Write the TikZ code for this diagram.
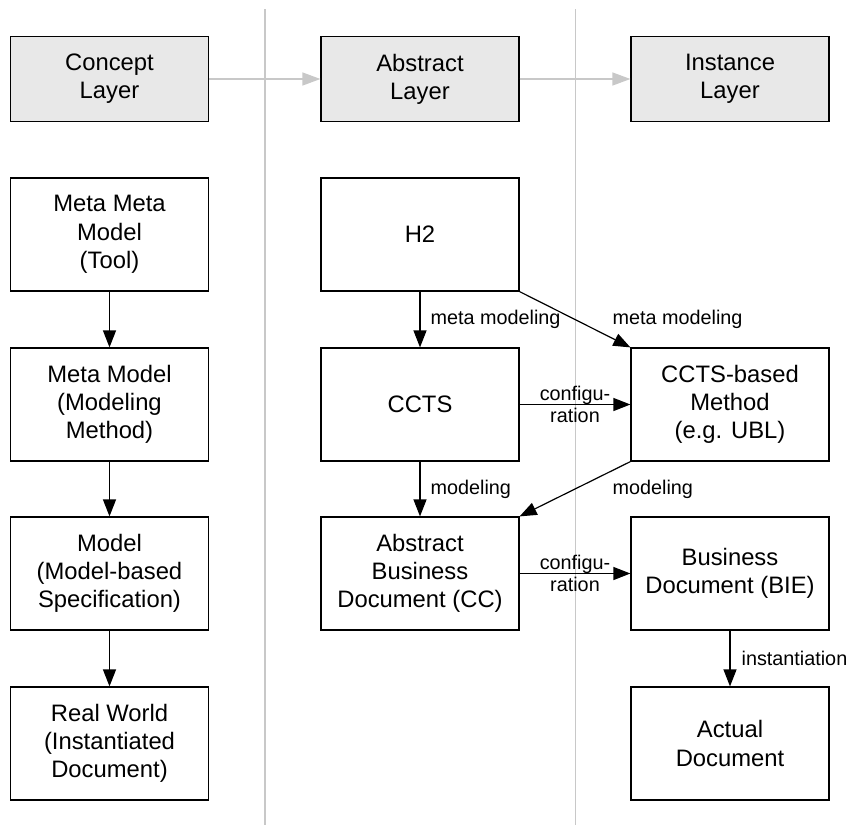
\documentclass[tikz,border=0pt]{standalone}
\usepackage{fontspec}
\setmainfont{Liberation Sans}
\usetikzlibrary{arrows.meta,calc}
\definecolor{layergray}{HTML}{E8E8E8}
\definecolor{linegray}{HTML}{C8C8C8}
\begin{document}
\begin{tikzpicture}[x=1pt,y=-1pt,
  box/.style={draw=black, line width=1.2pt, minimum width=198pt, minimum height=113pt,
    inner sep=0pt, align=center, font=\fontsize{23.8}{28.3}\selectfont},
  layerbox/.style={box, fill=layergray, minimum height=85pt},
  flow/.style={-{Triangle[length=17pt,width=13pt]}, line width=1.2pt},
  layerflow/.style={draw=linegray, -{Triangle[length=18pt,width=13pt]}, line width=1.3pt},
  lbl/.style={font=\fontsize{19.8}{22.3}\selectfont, inner sep=0pt, align=center},
  sepline/.style={draw=linegray, line width=1.5pt}]
\useasboundingbox (0,0) rectangle (850,825);
% separators
\coordinate (s1top) at (265,9);
\coordinate (s1bot) at (265,825);
\coordinate (s2top) at (575.5,9);
\coordinate (s2bot) at (575.5,825);
\draw[sepline] (s1top) -- (s1bot);
\draw[sepline] (s2top) -- (s2bot);
% layer headers
\node[layerbox] (concept) at (109.5,79) {Concept\\Layer};
\node[layerbox] (abstract) at (420,79) {Abstract\\Layer};
\node[layerbox] (instance) at (730,79) {Instance\\Layer};
% left column
\node[box] (mmm) at (109.5,234.5) {Meta Meta\\Model\\(Tool)};
\node[box] (mm) at (109.5,404.5) {Meta Model\\(Modeling\\Method)};
\node[box] (model) at (109.5,573.5) {Model\\(Model-based\\Specification)};
\node[box] (rw) at (109.5,743.5) {Real World\\(Instantiated\\Document)};
% middle column
\node[box] (h2) at (420,234.5) {H2};
\node[box] (ccts) at (420,404.5) {CCTS};
\node[box] (abd) at (420,573.5) {Abstract\\Business\\Document (CC)};
% right column
\node[box] (cctsb) at (730,404.5) {CCTS-based\\Method\\(e.g. UBL)};
\node[box] (bie) at (730,573.5) {Business\\Document (BIE)};
\node[box] (actual) at (730,743.5) {Actual\\Document};
% connectors
\draw[layerflow] (concept) -- (abstract);
\draw[layerflow] (abstract) -- (instance);
\draw[flow] (mmm) -- (mm);
\draw[flow] (mm) -- (model);
\draw[flow] (model) -- (rw);
\draw[flow] (h2) -- node[lbl, anchor=west, xshift=10pt] {meta modeling} (ccts);
\draw[flow] (h2.south east) -- node[lbl, anchor=west, xshift=37pt] {meta modeling} (cctsb.north west);
\draw[flow] (ccts) -- node[lbl] {configu-\\ration} (cctsb);
\draw[flow] (ccts) -- node[lbl, anchor=west, xshift=10pt] {modeling} (abd);
\draw[flow] (cctsb.south west) -- node[lbl, anchor=west, xshift=37pt] {modeling} (abd.north east);
\draw[flow] (abd) -- node[lbl] {configu-\\ration} (bie);
\draw[flow] (bie) -- node[lbl, anchor=west, xshift=11pt] {instantiation} (actual);
\end{tikzpicture}
\end{document}
